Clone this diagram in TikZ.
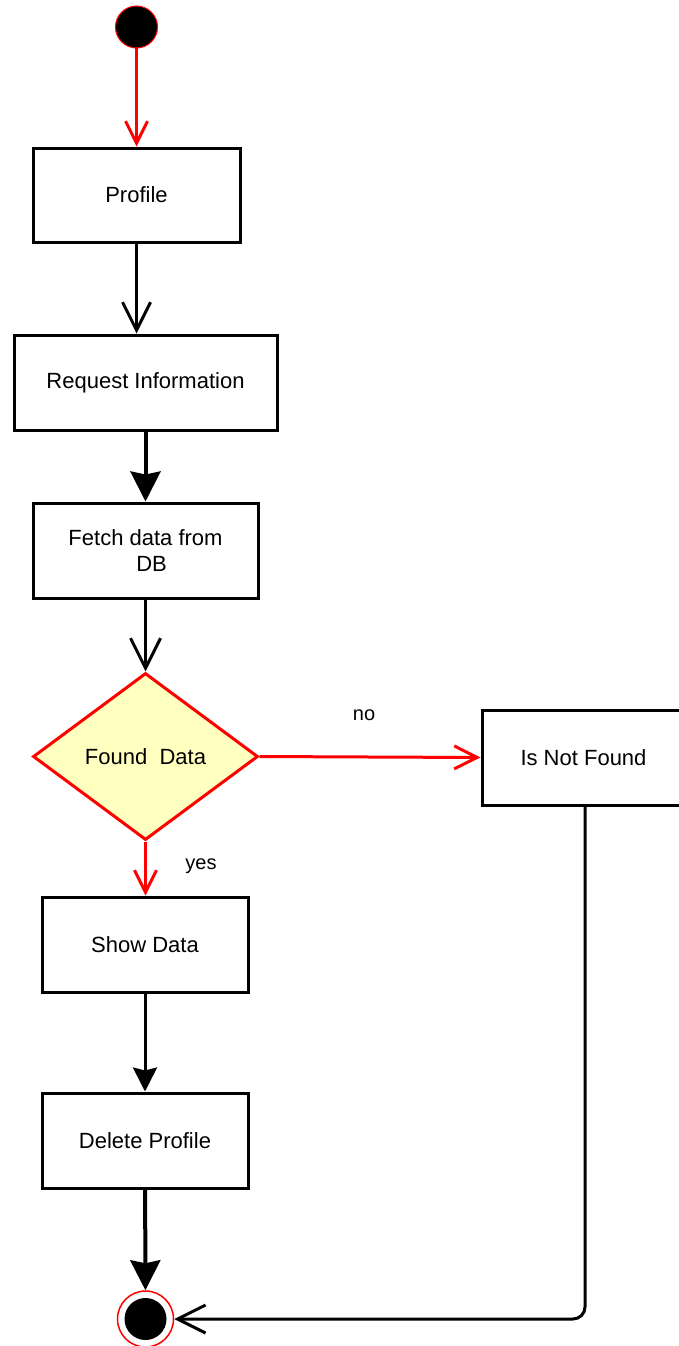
\documentclass[tikz,border=0pt]{standalone}
\usepackage{fontspec}
\setmainfont{Liberation Sans}
\usetikzlibrary{arrows.meta,shapes.geometric}
\definecolor{ured}{HTML}{FF0000}
\definecolor{dfill}{HTML}{FFFFC0}
\tikzset{
  actbox/.style={draw=black, line width=3pt, fill=white, rectangle, inner sep=0pt, align=center, font=\fontsize{22}{26}\selectfont},
  decbox/.style={draw=ured, line width=3pt, fill=dfill, diamond, inner sep=0pt, font=\fontsize{22}{26}\selectfont},
  lbl/.style={font=\fontsize{20}{24}\selectfont, inner sep=0pt},
  openarr/.style={-{Straight Barb[length=#1, width=#1, line width=3pt]}},
  fillarr/.style={-{Stealth[length=#1, width=#1, inset=3pt]}},
  blk/.style={draw=black, line width=3pt},
  rd/.style={draw=ured, line width=3pt},
}
\begin{document}
\begin{tikzpicture}[x=1pt,y=-1pt]
\useasboundingbox (0,0) rectangle (678,1346);
% start
\node[circle, fill=black, draw=ured, line width=1pt, minimum size=42pt, inner sep=0pt] (start) at (136.5,27) {};
% boxes
\node[actbox, minimum width=207pt, minimum height=94pt] (profile) at (136.5,195) {Profile};
\node[actbox, minimum width=263pt, minimum height=95pt] (req) at (145.5,382.5) {Request Information};
\node[actbox, minimum width=225pt, minimum height=95pt] (fetch) at (145.5,550.5) {Fetch data from\\\ \ DB};
\node[decbox, minimum width=225pt, minimum height=167pt] (found) at (145.5,756.5) {Found\ \ Data};
\node[actbox, minimum width=203pt, minimum height=95pt] (notfound) at (583.5,757.5) {Is Not Found};
\node[actbox, minimum width=206pt, minimum height=95pt] (show) at (145,944.5) {Show Data};
\node[actbox, minimum width=206pt, minimum height=95pt] (delete) at (145,1140.5) {Delete Profile};
% end
\node[circle, draw=ured, line width=1.5pt, fill=white, minimum size=56pt, inner sep=0pt] (end) at (145.5,1319) {};
\node[circle, fill=black, minimum size=42pt, inner sep=0pt] (endin) at (end.center) {};
% labels
\node[lbl] (no) at (364,715) {no};
\node[lbl] (yes) at (201,866) {yes};
% connectors
\draw[rd, openarr=22pt] (start) -- (profile);
\draw[blk, openarr=28pt] (profile.south -| 136.5,0) -- (req.north -| 136.5,0);
\draw[blk, line width=4pt, fillarr=30pt] (req) -- (fetch);
\draw[blk, openarr=30pt] (fetch) -- (found);
\draw[rd, openarr=23pt] (found.east) -- (notfound.west);
\draw[rd, openarr=22pt] (found.south) -- (show.north -| found.south);
\draw[blk, fillarr=24pt] (show) -- (delete);
\draw[blk, line width=4pt, fillarr=30pt] (delete) -- (end);
\draw[blk, openarr=28pt, rounded corners=12pt] (notfound.south -| 585,0) |- (end.east);
\end{tikzpicture}
\end{document}
